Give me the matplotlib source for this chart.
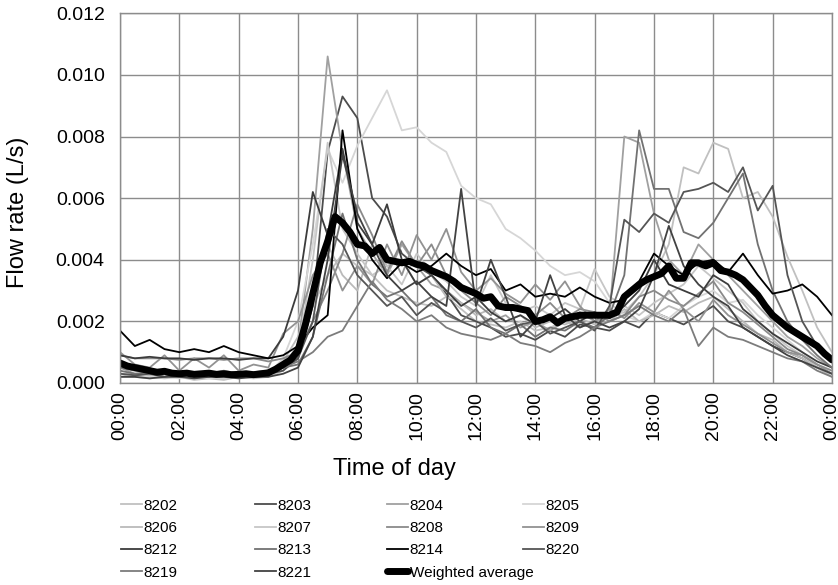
import numpy as np
import matplotlib
matplotlib.use("Agg")
import matplotlib.pyplot as plt

plt.rcParams['font.family'] = ['Liberation Sans', 'DejaVu Sans']

# flow rates in mL/s (= 0.001 L/s), half-hourly from 00:00 to 24:00
s8202 = [0.3, 0.2, 0.2, 0.15, 0.2, 0.1, 0.15, 0.1, 0.2, 0.15, 0.2,
         0.4, 1.0, 2.5, 3.5, 4.2, 3.8, 3.5, 3.0, 2.8, 2.6, 2.5, 2.8, 2.4,
         2.0, 1.9, 1.8, 2.0, 1.7, 1.8, 2.0, 1.8, 2.0, 2.1, 2.3, 2.8,
         3.5, 4.5, 7.0, 6.8, 7.8, 7.6, 6.0, 6.2, 5.4, 4.1, 3.0, 1.8, 1.0]
s8203 = [0.3, 0.25, 0.3, 0.2, 0.25, 0.2, 0.3, 0.2, 0.25, 0.2, 0.3,
         0.4, 0.8, 2.5, 7.5, 9.3, 8.6, 6.0, 5.4, 4.2, 3.8, 3.5, 2.9, 2.2,
         2.0, 1.8, 1.5, 1.6, 1.4, 1.7, 1.5, 1.9, 1.8, 1.7, 2.0, 1.8,
         2.3, 2.1, 1.9, 2.2, 2.5, 2.0, 1.8, 1.5, 1.2, 1.0, 0.8, 0.5, 0.3]
s8204 = [0.5, 0.3, 0.3, 0.2, 0.3, 0.2, 0.25, 0.2, 0.3, 0.2, 0.3,
         0.6, 1.2, 5.0, 10.6, 7.5, 5.0, 4.2, 3.5, 4.5, 3.8, 3.2, 3.0, 2.6,
         2.3, 2.0, 2.2, 1.8, 2.0, 1.7, 2.0, 2.3, 2.0, 2.2, 8.0, 7.8,
         5.5, 4.0, 3.5, 4.5, 4.0, 3.5, 3.0, 2.5, 2.0, 1.5, 1.2, 0.8, 0.5]
s8205 = [0.3, 0.2, 0.2, 0.2, 0.15, 0.2, 0.15, 0.2, 0.15, 0.2, 0.3,
         0.8, 2.0, 4.5, 7.6, 6.5, 7.7, 8.6, 9.5, 8.2, 8.3, 7.8, 7.5, 6.4,
         6.0, 5.8, 5.0, 4.7, 4.3, 3.8, 3.5, 3.6, 3.3, 2.6, 2.2, 2.0,
         2.3, 2.1, 2.5, 2.8, 3.0, 2.6, 2.7, 2.2, 1.8, 1.4, 1.0, 0.6, 0.4]
s8206 = [0.3, 0.3, 0.25, 0.3, 0.2, 0.3, 0.25, 0.3, 0.2, 0.25, 0.3,
         0.7, 1.5, 3.0, 4.5, 3.5, 3.0, 4.5, 3.8, 4.0, 3.2, 3.5, 2.8, 2.6,
         2.2, 2.4, 2.0, 2.2, 1.8, 2.0, 1.9, 2.1, 1.9, 2.0, 2.4, 2.0,
         2.2, 2.5, 2.3, 2.6, 2.8, 2.4, 2.0, 1.6, 1.4, 1.0, 0.8, 0.5, 0.2]
s8207 = [0.2, 0.2, 0.15, 0.2, 0.2, 0.15, 0.2, 0.15, 0.2, 0.2, 0.25,
         0.5, 1.0, 4.0, 7.8, 5.0, 4.2, 3.5, 3.8, 3.2, 4.2, 3.6, 3.3, 2.8,
         2.5, 3.5, 2.6, 2.3, 2.5, 2.2, 2.6, 2.4, 3.7, 2.8, 2.5, 2.2,
         2.6, 2.9, 3.2, 3.8, 3.4, 3.0, 2.6, 2.0, 1.6, 1.2, 0.9, 0.5, 0.3]
s8208 = [0.9, 0.8, 0.8, 0.8, 0.75, 0.8, 0.8, 0.75, 0.8, 0.8, 0.7,
         0.8, 1.0, 2.0, 3.0, 4.2, 5.8, 4.8, 3.6, 4.6, 3.8, 4.5, 3.5, 3.0,
         2.6, 2.2, 2.8, 2.5, 2.2, 2.6, 2.1, 2.4, 2.3, 2.0, 2.2, 2.8,
         3.0, 2.7, 2.5, 2.9, 3.3, 2.6, 2.3, 1.9, 1.5, 1.1, 0.9, 0.6, 0.4]
s8209 = [1.0, 0.6, 0.5, 0.9, 0.4, 0.8, 0.5, 0.9, 0.4, 0.6, 0.5,
         1.6, 2.0, 3.5, 4.2, 3.0, 3.8, 3.2, 4.5, 3.5, 4.8, 4.0, 5.0, 3.6,
         3.0, 3.4, 2.9, 2.6, 3.2, 2.7, 3.3, 2.5, 2.0, 2.4, 2.1, 2.6,
         2.3, 3.0, 2.4, 2.0, 2.7, 2.2, 1.9, 1.6, 1.3, 1.0, 0.9, 0.6, 0.3]
s8212 = [0.9, 0.8, 0.85, 0.8, 0.8, 0.75, 0.8, 0.8, 0.75, 0.8, 0.8,
         1.5, 3.0, 6.2, 4.8, 7.6, 5.2, 4.5, 5.8, 4.0, 3.2, 3.5, 3.0, 2.5,
         2.8, 2.3, 2.0, 2.2, 1.9, 2.1, 2.4, 2.0, 2.3, 2.1, 2.5, 3.0,
         4.0, 3.2, 3.0, 2.8, 3.5, 3.2, 2.4, 2.0, 1.6, 1.3, 1.0, 0.7, 0.5]
s8213 = [0.4, 0.3, 0.35, 0.3, 0.3, 0.25, 0.3, 0.3, 0.25, 0.3, 0.3,
         0.5, 0.6, 1.5, 3.5, 5.5, 4.0, 3.2, 2.8, 3.0, 2.5, 2.8, 2.2, 2.0,
         2.4, 1.8, 1.6, 1.9, 1.5, 1.8, 1.7, 2.0, 1.8, 2.2, 3.5, 8.2,
         6.3, 6.3, 4.9, 4.7, 5.2, 6.0, 6.8, 4.5, 3.0, 2.0, 1.4, 0.9, 0.5]
s8214 = [1.7, 1.2, 1.4, 1.1, 1.0, 1.1, 1.0, 1.2, 1.0, 0.9, 0.8,
         0.9, 1.2, 1.8, 2.2, 8.2, 5.0, 4.0, 3.4, 3.9, 3.6, 3.8, 4.2, 3.8,
         3.5, 3.7, 3.0, 3.2, 2.8, 2.9, 2.8, 3.1, 2.8, 2.6, 2.7, 3.3,
         4.2, 3.8, 3.5, 3.9, 4.0, 3.6, 4.2, 3.5, 2.9, 3.0, 3.2, 2.8, 2.2]
s8219 = [0.5, 0.4, 0.35, 0.4, 0.3, 0.35, 0.3, 0.4, 0.3, 0.35, 0.4,
         0.5, 0.7, 1.0, 1.5, 1.7, 2.5, 3.3, 2.7, 2.4, 2.0, 2.2, 1.8, 1.6,
         1.5, 1.4, 1.6, 1.3, 1.2, 1.0, 1.3, 1.5, 1.8, 2.0, 2.2, 2.5,
         2.2, 2.0, 2.4, 1.2, 1.8, 1.5, 1.4, 1.2, 1.0, 0.8, 0.7, 0.4, 0.2]
s8220 = [0.3, 0.25, 0.3, 0.2, 0.3, 0.25, 0.2, 0.3, 0.25, 0.2, 0.3,
         0.5, 0.8, 2.0, 5.0, 4.5, 3.5, 3.0, 2.5, 2.8, 2.2, 2.6, 2.3, 2.0,
         1.8, 2.1, 1.7, 1.9, 2.0, 1.6, 1.8, 2.0, 1.7, 2.5, 5.3, 4.9,
         5.5, 5.2, 6.2, 6.3, 6.5, 6.2, 7.0, 5.6, 6.4, 3.5, 2.0, 1.2, 0.7]
s8221 = [0.2, 0.2, 0.15, 0.2, 0.2, 0.15, 0.2, 0.2, 0.15, 0.2, 0.2,
         0.3, 0.5, 1.5, 4.0, 7.4, 5.5, 4.5, 3.5, 3.0, 3.3, 2.8, 2.5, 6.3,
         2.5, 4.0, 2.8, 1.5, 2.0, 3.5, 2.2, 1.8, 2.0, 1.8, 2.0, 2.4,
         3.5, 5.1, 3.8, 3.2, 2.8, 2.5, 1.8, 1.5, 1.2, 0.9, 0.7, 0.5, 0.3]

# weighted average, quarter-hourly from 00:00 to 24:00
weighted = [0.65, 0.55, 0.50, 0.45, 0.40, 0.35, 0.38, 0.32,
            0.30, 0.32, 0.28, 0.30, 0.32, 0.28, 0.30, 0.27,
            0.28, 0.30, 0.27, 0.30, 0.33, 0.45, 0.60, 0.75,
            1.05, 1.9, 2.9, 3.9, 4.6, 5.4, 5.2, 4.9,
            4.5, 4.45, 4.2, 4.4, 4.0, 3.95, 3.9, 3.95,
            3.85, 3.8, 3.65, 3.55, 3.45, 3.3, 3.1, 3.0,
            2.9, 2.75, 2.8, 2.5, 2.45, 2.45, 2.4, 2.35,
            2.0, 2.05, 2.15, 1.95, 2.1, 2.15, 2.2, 2.2,
            2.2, 2.2, 2.2, 2.3, 2.8, 3.0, 3.2, 3.35,
            3.45, 3.55, 3.8, 3.4, 3.4, 3.9, 3.9, 3.8,
            3.9, 3.65, 3.6, 3.5, 3.35, 3.1, 2.85, 2.5,
            2.2, 2.0, 1.8, 1.65, 1.5, 1.35, 1.2, 0.95,
            0.75]

names = ['8202', '8203', '8204', '8205', '8206', '8207', '8208',
         '8209', '8212', '8213', '8214', '8220', '8219', '8221']
series = [s8202, s8203, s8204, s8205, s8206, s8207, s8208,
          s8209, s8212, s8213, s8214, s8220, s8219, s8221]
colors = ['#c0c0c0', '#4c4c4c', '#a0a0a0', '#d6d6d6', '#bababa', '#c6c6c6', '#8a8a8a',
          '#929292', '#3c3c3c', '#727272', '#000000', '#555555', '#7c7c7c', '#424242']

hour_labels = ['00:00', '02:00', '04:00', '06:00', '08:00', '10:00', '12:00',
               '14:00', '16:00', '18:00', '20:00', '22:00', '00:00']

t_half = np.arange(49) * 0.5
t_quarter = np.arange(97) * 0.25

fig = plt.figure(figsize=(8.38, 5.85), dpi=100)
ax = fig.add_axes([0.1432, 0.3453, 0.8496, 0.6320])

handles = {}
for name, vals, c in zip(names, series, colors):
    ln, = ax.plot(t_half, np.array(vals) * 1e-3, color=c, lw=1.3)
    handles[name] = ln
wl, = ax.plot(t_quarter, np.array(weighted) * 1e-3, color='black', lw=5,
              solid_capstyle='round', solid_joinstyle='round')
handles['Weighted average'] = wl

ax.set_xlim(0, 24)
ax.set_ylim(0, 0.012)
ax.set_xticks(np.arange(0, 25, 2))
ax.set_xticklabels(hour_labels, rotation=90)
yt = [0, 0.002, 0.004, 0.006, 0.008, 0.010, 0.012]
ax.set_yticks(yt)
ax.set_yticklabels(['%.3f' % v for v in yt])
ax.tick_params(axis='both', length=0, labelsize=14)
ax.tick_params(axis='y', pad=11)
ax.tick_params(axis='x', pad=6)
ax.grid(True, color='#8c8c8c', lw=1)
for sp in ax.spines.values():
    sp.set_color('#8c8c8c')
    sp.set_linewidth(1)
ax.set_axisbelow(True)

ax.set_xlabel('Time of day', fontsize=17)
ax.set_ylabel('Flow rate (L/s)', fontsize=17)
ax.xaxis.set_label_coords(0.386, -0.203)
ax.yaxis.set_label_coords(-0.128, 0.462)

# legend laid out as four equal-width columns
cols = [['8202', '8206', '8212', '8219'],
        ['8203', '8207', '8213', '8221'],
        ['8204', '8208', '8214', 'Weighted average'],
        ['8205', '8209', '8220']]
col_x = [0.1444, 0.3043, 0.4618, 0.6241]
for cx, col in zip(col_x, cols):
    fig.legend([handles[k] for k in col], col, loc='upper left',
               bbox_to_anchor=(cx, 0.1474), frameon=False, fontsize=11,
               handlelength=1.35, handletextpad=0.13, labelspacing=0.54,
               borderpad=0, borderaxespad=0)

fig.savefig('out.png', dpi=100)
